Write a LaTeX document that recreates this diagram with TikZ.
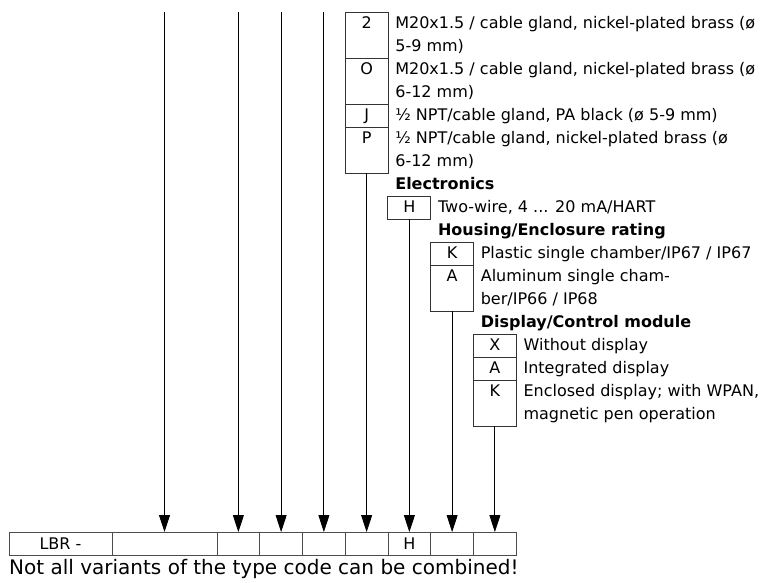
\documentclass[tikz,border=0pt]{standalone}
\usepackage{fontspec}
\setmainfont{DejaVu Sans}
\usetikzlibrary{arrows.meta,positioning}
\tikzset{
  code/.style  = {draw=black!80, line width=0.8pt, inner sep=0pt, outer sep=0pt,
                  anchor=north, minimum width=43pt, text height=16pt, text depth=7pt},
  code2/.style = {code, text depth=30pt},
  desc/.style  = {anchor=north west, inner sep=0pt, align=left},
  head/.style  = {desc, font=\fontsize{16}{23}\selectfont\bfseries},
  slot/.style  = {draw=black!70, line width=0.8pt, inner sep=0pt, outer sep=0pt,
                  anchor=west, minimum width=42.75pt, minimum height=23pt},
  note/.style  = {anchor=base west, inner sep=0pt, font=\fontsize{20}{23}\selectfont},
  feed/.style  = {draw, line width=0.8pt, -{Triangle[length=17pt,width=11pt]}}
}
\begin{document}
\begin{tikzpicture}
  [
    x                 = 1pt,
    y                 = -1pt,
    every node/.style = {font=\fontsize{16}{23}\selectfont}
  ]
  \useasboundingbox (0,0) rectangle (760,582);
  \coordinate (top) at (0,12);
  % type code
  \node [slot, minimum width=103pt] (s0) at (9,543.5) {LBR -};
  \node [slot, minimum width=105pt, right=0pt of s0] (s1) {};
  \node [slot, right=0pt of s1] (s2) {};
  \node [slot, right=0pt of s2] (s3) {};
  \node [slot, right=0pt of s3] (s4) {};
  \node [slot, right=0pt of s4] (s5) {};
  \node [slot, right=0pt of s5] (s6) {H};
  \node [slot, right=0pt of s6] (s7) {};
  \node [slot, right=0pt of s7] (s8) {};
  \node [note] (note) at ([yshift=-19pt]s0.south west)
    {Not all variants of the type code can be combined!};
  % cable entry
  \node [code2] (c2) at (s5 |- top) {2};
  \node [code2, below=0pt of c2] (cO) {O};
  \node [code,  below=0pt of cO] (cJ) {J};
  \node [code2, below=0pt of cJ] (cP) {P};
  \node [desc] (d2) at ([xshift=7pt]c2.north east)
    {\strut M20x1.5 / cable gland, nickel-plated brass (ø\\5-9 mm)};
  \node [desc] (dO) at ([xshift=7pt]cO.north east)
    {\strut M20x1.5 / cable gland, nickel-plated brass (ø\\6-12 mm)};
  \node [desc] (dJ) at ([xshift=7pt]cJ.north east)
    {\strut ½ NPT/cable gland, PA black (ø 5-9 mm)};
  \node [desc] (dP) at ([xshift=7pt]cP.north east)
    {\strut ½ NPT/cable gland, nickel-plated brass (ø\\6-12 mm)};
  % electronics
  \node [head] (elec) at ([xshift=7pt]cP.south east) {\strut Electronics};
  \node [code, yshift=-23pt] (eH) at (s6 |- cP.south) {H};
  \node [desc] (dH) at ([xshift=7pt]eH.north east) {\strut Two-wire, 4 ... 20 mA/HART};
  % housing
  \node [head] (hous) at ([xshift=7pt]eH.south east) {\strut Housing/Enclosure rating};
  \node [code, yshift=-23pt] (hK) at (s7 |- eH.south) {K};
  \node [code2, below=0pt of hK] (hA) {A};
  \node [desc] (dK) at ([xshift=7pt]hK.north east) {\strut Plastic single chamber/IP67 / IP67};
  \node [desc] (dA) at ([xshift=7pt]hA.north east) {\strut Aluminum single cham-\\ber/IP66 / IP68};
  % display
  \node [head] (disp) at ([xshift=7pt]hA.south east) {\strut Display/Control module};
  \node [code, yshift=-23pt] (mX) at (s8 |- hA.south) {X};
  \node [code,  below=0pt of mX] (mA) {A};
  \node [code2, below=0pt of mA] (mK) {K};
  \node [desc] (dX) at ([xshift=7pt]mX.north east) {\strut Without display};
  \node [desc] (dmA) at ([xshift=7pt]mA.north east) {\strut Integrated display};
  \node [desc] (dmK) at ([xshift=7pt]mK.north east)
    {\strut Enclosed display; with WPAN,\\magnetic pen operation};
  % connectors
  \coordinate (t1) at (s1 |- top);
  \coordinate (t2) at (s2 |- top);
  \coordinate (t3) at (s3 |- top);
  \coordinate (t4) at (s4 |- top);
  \draw [feed] (t1) -- (s1.north);
  \draw [feed] (t2) -- (s2.north);
  \draw [feed] (t3) -- (s3.north);
  \draw [feed] (t4) -- (s4.north);
  \draw [feed] (cP) -- (s5.north);
  \draw [feed] (eH) -- (s6.north);
  \draw [feed] (hA) -- (s7.north);
  \draw [feed] (mK) -- (s8.north);
\end{tikzpicture}
\end{document}
